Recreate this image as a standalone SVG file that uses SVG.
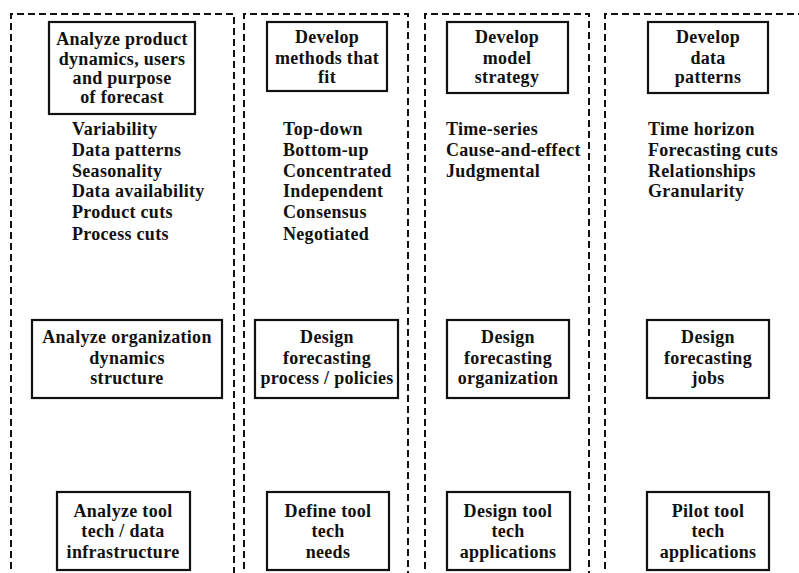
<svg xmlns="http://www.w3.org/2000/svg" width="799" height="573" viewBox="0 0 799 573">
  <style>
    .lane { fill: none; stroke: #111; stroke-width: 2; stroke-dasharray: 7 4; }
    .box { fill: #fff; stroke: #111; stroke-width: 2.2; }
    text { font-family: "Liberation Serif", "Times New Roman", serif; font-weight: bold; font-size: 18px; letter-spacing: 0.3px; fill: #111; }
    .c { text-anchor: middle; }
  </style>
  <rect width="799" height="573" fill="#fff"/>

  <!-- dashed lanes, open at the bottom -->
  <g id="lanes">
    <path class="lane" d="M11,580 V14 H234 V580"/>
    <path class="lane" d="M244,580 V14 H408 V580"/>
    <path class="lane" d="M425,580 V14 H589 V580"/>
    <path class="lane" d="M605,580 V14 H805"/>
  </g>

  <g id="connectors"></g>

  <!-- row 1 -->
  <g id="analyze-product">
    <rect class="box" x="49" y="22" width="146" height="92"/>
    <text class="c" x="122" y="45">Analyze product</text>
    <text class="c" x="122" y="65">dynamics, users</text>
    <text class="c" x="122" y="84">and purpose</text>
    <text class="c" x="122" y="103">of forecast</text>
  </g>
  <g id="develop-methods">
    <rect class="box" x="267" y="22" width="120" height="69"/>
    <text class="c" x="327" y="43">Develop</text>
    <text class="c" x="327" y="64">methods that</text>
    <text class="c" x="327" y="83">fit</text>
  </g>
  <g id="develop-model">
    <rect class="box" x="447" y="22" width="121" height="71"/>
    <text class="c" x="507" y="43">Develop</text>
    <text class="c" x="507" y="64">model</text>
    <text class="c" x="507" y="83">strategy</text>
  </g>
  <g id="develop-data">
    <rect class="box" x="648" y="22" width="120" height="71"/>
    <text class="c" x="708" y="43">Develop</text>
    <text class="c" x="708" y="64">data</text>
    <text class="c" x="708" y="83">patterns</text>
  </g>

  <!-- item lists -->
  <g id="list-product">
    <text x="72" y="135">Variability</text>
    <text x="72" y="156">Data patterns</text>
    <text x="72" y="177">Seasonality</text>
    <text x="72" y="197">Data availability</text>
    <text x="72" y="218">Product cuts</text>
    <text x="72" y="240">Process cuts</text>
  </g>
  <g id="list-methods">
    <text x="283" y="135">Top-down</text>
    <text x="283" y="156">Bottom-up</text>
    <text x="283" y="177">Concentrated</text>
    <text x="283" y="197">Independent</text>
    <text x="283" y="218">Consensus</text>
    <text x="283" y="240">Negotiated</text>
  </g>
  <g id="list-model">
    <text x="446" y="135">Time-series</text>
    <text x="446" y="156">Cause-and-effect</text>
    <text x="446" y="177">Judgmental</text>
  </g>
  <g id="list-data">
    <text x="648" y="135">Time horizon</text>
    <text x="648" y="156">Forecasting cuts</text>
    <text x="648" y="177">Relationships</text>
    <text x="648" y="197">Granularity</text>
  </g>

  <!-- row 2 -->
  <g id="analyze-organization">
    <rect class="box" x="32" y="320" width="190" height="78"/>
    <text class="c" x="127" y="343">Analyze organization</text>
    <text class="c" x="127" y="364">dynamics</text>
    <text class="c" x="127" y="384">structure</text>
  </g>
  <g id="design-process">
    <rect class="box" x="255" y="320" width="143" height="78"/>
    <text class="c" x="327" y="343">Design</text>
    <text class="c" x="327" y="364">forecasting</text>
    <text class="c" x="327" y="384">process / policies</text>
  </g>
  <g id="design-organization">
    <rect class="box" x="447" y="320" width="122" height="78"/>
    <text class="c" x="508" y="343">Design</text>
    <text class="c" x="508" y="364">forecasting</text>
    <text class="c" x="508" y="384">organization</text>
  </g>
  <g id="design-jobs">
    <rect class="box" x="647" y="320" width="122" height="78"/>
    <text class="c" x="708" y="343">Design</text>
    <text class="c" x="708" y="364">forecasting</text>
    <text class="c" x="708" y="384">jobs</text>
  </g>

  <!-- row 3 -->
  <g id="analyze-tool">
    <rect class="box" x="57" y="492" width="133" height="78"/>
    <text class="c" x="123" y="517">Analyze tool</text>
    <text class="c" x="123" y="537">tech / data</text>
    <text class="c" x="123" y="558">infrastructure</text>
  </g>
  <g id="define-tool">
    <rect class="box" x="267" y="492" width="122" height="78"/>
    <text class="c" x="328" y="517">Define tool</text>
    <text class="c" x="328" y="537">tech</text>
    <text class="c" x="328" y="558">needs</text>
  </g>
  <g id="design-tool">
    <rect class="box" x="447" y="492" width="123" height="78"/>
    <text class="c" x="508" y="517">Design tool</text>
    <text class="c" x="508" y="537">tech</text>
    <text class="c" x="508" y="558">applications</text>
  </g>
  <g id="pilot-tool">
    <rect class="box" x="647" y="492" width="122" height="78"/>
    <text class="c" x="708" y="517">Pilot tool</text>
    <text class="c" x="708" y="537">tech</text>
    <text class="c" x="708" y="558">applications</text>
  </g>
</svg>
